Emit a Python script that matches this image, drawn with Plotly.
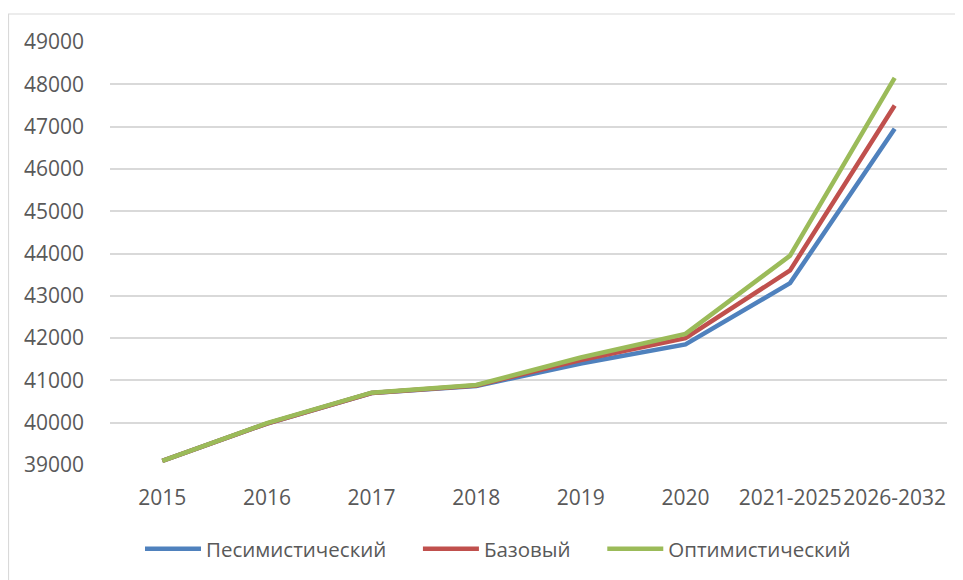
import plotly.graph_objects as go

categories = ["2015", "2016", "2017", "2018", "2019", "2020", "2021-2025", "2026-2032"]
pessimistic = [39100, 39980, 40700, 40870, 41400, 41850, 43300, 46950]
base = [39100, 39980, 40700, 40880, 41480, 42000, 43600, 47500]
optimistic = [39100, 39990, 40710, 40890, 41540, 42100, 43950, 48150]
series_names = ["Песимистический", "Базовый", "Оптимистический"]
colors = ["#4F81BD", "#C0504D", "#9BBB59"]

# page has an 8px body margin; figure is sized to fit the window
W, H = 955, 572
L, T = 102, 34
pw, ph = 837, 423
R, B = W - L - pw, H - T - ph

PAD = "\u00a0" * 5
fig = go.Figure()
for i, (name, vals, c) in enumerate(zip(series_names, [pessimistic, base, optimistic], colors)):
    label = name + (PAD if i < len(series_names) - 1 else "")
    fig.add_trace(go.Scatter(x=categories, y=vals, name=label, mode="lines",
                             line=dict(color=c, width=4.5)))

tickfont = dict(family="Open Sans, Roboto, sans-serif", size=21, color="#595959")
legfont = dict(family="Open Sans, Roboto, sans-serif", size=20.5, color="#595959")
fig.update_layout(
    width=W, height=H,
    margin=dict(l=L, r=R, t=T, b=B, autoexpand=False),
    paper_bgcolor="white", plot_bgcolor="white",
    font=tickfont,
    showlegend=True,
    legend=dict(orientation="h", x=(498 - 8 - L) / pw, xanchor="center",
                y=-(541 - (T + ph)) / ph, yanchor="middle",
                font=legfont, itemwidth=56, tracegroupgap=0),
    xaxis=dict(type="category", showgrid=False, zeroline=False,
               showline=False, ticks="", ticklabelstandoff=18,
               tickangle=0, automargin=False,
               range=[-0.5, 7.5], tickfont=tickfont),
    yaxis=dict(range=[39000, 49000], dtick=1000, showgrid=True,
               gridcolor="#D9D9D9", gridwidth=1.5, zeroline=False,
               showline=False, ticks="", ticklabelstandoff=25,
               automargin=False, tickformat="d", tickfont=tickfont),
    shapes=[dict(type="rect", xref="paper", yref="paper",
                 x0=(0.5 - L) / pw, x1=(W + 10 - L) / pw,
                 y0=-(H + 10 - T - ph) / ph, y1=1 + (T - 6) / ph,
                 line=dict(color="#D9D9D9", width=1.2), layer="below")],
)
fig.write_html("out.html")
